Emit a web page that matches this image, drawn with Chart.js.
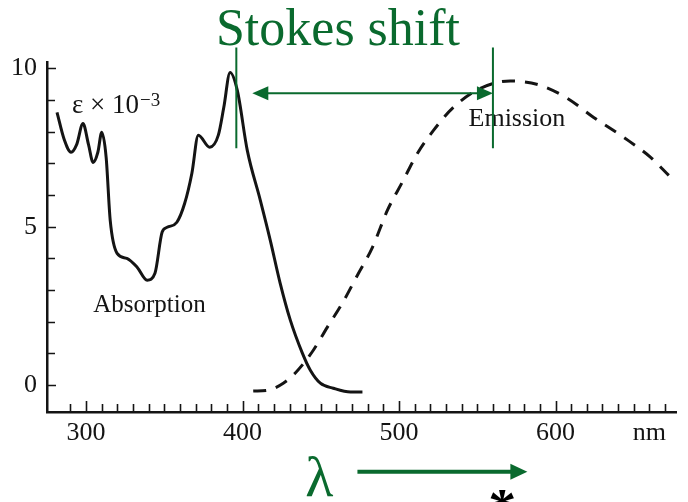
<!DOCTYPE html>
<html>
<head>
<meta charset="utf-8">
<title>Stokes shift</title>
<script src="https://cdn.jsdelivr.net/npm/chart.js@4.4.1/dist/chart.umd.min.js"></script>
<style>
  html, body { margin: 0; padding: 0; background: #fff; }
  canvas { display: block; }
</style>
</head>
<body>
<canvas id="chart" width="688" height="502"></canvas>
<script>
/* Absorption / emission spectra with the Stokes shift marked. */
(function () {
  "use strict";

  // wavelength (nm) and epsilon x 10^-3
  var absorptionNm = [281.4, 286, 290.4, 294, 298, 301.5, 304.5, 307.5, 310, 312.8, 315.4, 319.8,
    326, 332.6, 339, 344, 348.6, 351.8, 358, 363, 367.6, 371.7, 379, 384.5, 388, 392, 396.6,
    403, 411.3, 417.7, 424, 430.5, 438.2, 443.3, 449.7, 458, 469, 476.6];
  var absorptionEps = [8.61, 7.75, 7.35, 7.6, 8.26, 7.6, 7.03, 7.35, 7.98, 7.19, 5.2, 4.16,
    4.0, 3.72, 3.31, 3.53, 4.83, 4.98, 5.14, 5.74, 6.69, 7.89, 7.51, 7.89, 8.77, 9.87, 9.31,
    7.41, 5.84, 4.57, 3.22, 2.05, 1.01, 0.47, 0.06, -0.1, -0.22, -0.22];

  var emissionNm = [406.8, 416.4, 426, 433.7, 445.2, 454.2, 463.8, 473.4, 483, 492.6, 502,
    511.8, 522, 534.8, 552, 571, 590.5, 607.7, 624.4, 643.6, 660.8, 672.4];
  var emissionEps = [-0.19, -0.16, 0.06, 0.38, 1.1, 1.83, 2.59, 3.47, 4.35, 5.52, 6.4,
    7.32, 8.04, 8.77, 9.37, 9.6, 9.46, 9.05, 8.45, 7.82, 7.19, 6.62];

  var xTickValues = [290, 300, 310, 320, 330, 340, 350, 360, 370, 380, 390, 400, 410, 420,
    430, 440, 450, 460, 470, 480, 490, 500, 510, 520, 530, 540, 550, 560, 570, 580, 590,
    600, 610, 620, 630, 640, 650, 660, 670];
  var xTickLabels = { 300: "300", 400: "400", 500: "500", 600: "600", 660: "nm" };
  var yTickValues = [0, 1, 2, 3, 4, 5, 6, 7, 8, 9, 10];
  var yTickLabels = { 0: "0", 5: "5", 10: "10" };

  var INK = "#141414";
  var GREEN = "#0a6a2e";
  var SERIF = "'Liberation Serif', 'DejaVu Serif', serif";

  function points(xs, ys) {
    return xs.map(function (x, i) { return { x: x, y: ys[i] }; });
  }

  function arrowHead(ctx, tipX, tipY, dir, len, half) {
    ctx.beginPath();
    ctx.moveTo(tipX, tipY);
    ctx.lineTo(tipX - dir * len, tipY - half);
    ctx.lineTo(tipX - dir * len, tipY + half);
    ctx.closePath();
    ctx.fill();
  }

  // inward tick marks, like the printed figure
  var inwardTicks = {
    id: "inwardTicks",
    beforeDatasetsDraw: function (chart) {
      var ctx = chart.ctx, xs = chart.scales.x, ys = chart.scales.y, area = chart.chartArea;
      ctx.save();
      ctx.strokeStyle = INK;
      ctx.lineWidth = 1.6;
      ctx.beginPath();
      xTickValues.forEach(function (v) {
        var px = Math.round(xs.getPixelForValue(v)) + 0.5;
        var len = v % 100 === 0 ? 11 : 8;
        ctx.moveTo(px, area.bottom);
        ctx.lineTo(px, area.bottom - len);
      });
      yTickValues.forEach(function (v) {
        var py = Math.round(ys.getPixelForValue(v)) + 0.5;
        var len = v % 5 === 0 ? 9 : 8;
        ctx.moveTo(area.left, py);
        ctx.lineTo(area.left + len, py);
      });
      ctx.stroke();
      ctx.restore();
    }
  };

  var notes = {
    id: "notes",
    afterDatasetsDraw: function (chart) {
      var ctx = chart.ctx, xs = chart.scales.x, ys = chart.scales.y;
      function X(v) { return xs.getPixelForValue(v); }
      function Y(v) { return ys.getPixelForValue(v); }

      ctx.save();
      ctx.fillStyle = INK;
      ctx.textAlign = "left";
      ctx.textBaseline = "alphabetic";

      ctx.font = "27px " + SERIF;
      var base = "\u03b5 \u00d7 10";
      ctx.fillText(base, X(291), Y(8.58));
      var w = ctx.measureText(base).width;
      ctx.font = "19px " + SERIF;
      ctx.fillText("\u22123", X(291) + w + 1, Y(8.58) - 7);

      ctx.font = "25px " + SERIF;
      ctx.fillText("Absorption", X(304.5), Y(2.3));
      ctx.font = "26px " + SERIF;
      ctx.fillText("Emission", X(544.4), Y(8.17));

      // Stokes shift markers
      ctx.strokeStyle = GREEN;
      ctx.fillStyle = GREEN;
      ctx.lineWidth = 2;
      ctx.beginPath();
      [396, 560].forEach(function (nm) {
        ctx.moveTo(X(nm), Y(10.66));
        ctx.lineTo(X(nm), Y(7.48));
      });
      ctx.moveTo(X(406.2) + 14, Y(9.21));
      ctx.lineTo(X(560) - 14, Y(9.21));
      ctx.stroke();
      arrowHead(ctx, X(406.2), Y(9.21), -1, 16, 7);
      arrowHead(ctx, X(560), Y(9.21), 1, 16, 7);

      // wavelength arrow
      ctx.font = "58px " + SERIF;
      ctx.textAlign = "center";
      ctx.fillText("\u03bb", X(449), Y(-3.5));
      ctx.lineWidth = 4;
      ctx.beginPath();
      ctx.moveTo(X(473.4), Y(-2.74));
      ctx.lineTo(X(582) - 15, Y(-2.74));
      ctx.stroke();
      arrowHead(ctx, X(582), Y(-2.74), 1, 17, 8);

      ctx.fillStyle = "#000";
      ctx.font = "bold 56px " + SERIF;
      ctx.fillText("*", X(566), Y(-4.51));
      ctx.restore();
    }
  };

  new Chart(document.getElementById("chart"), {
    type: "line",
    data: {
      datasets: [{
        label: "Absorption",
        data: points(absorptionNm, absorptionEps),
        borderColor: INK,
        borderWidth: 3,
        pointRadius: 0,
        cubicInterpolationMode: "monotone",
        fill: false
      }, {
        label: "Emission",
        data: points(emissionNm, emissionEps),
        borderColor: INK,
        borderWidth: 3,
        borderDash: [13, 10],
        pointRadius: 0,
        cubicInterpolationMode: "monotone",
        fill: false
      }]
    },
    options: {
      responsive: false,
      animation: false,
      devicePixelRatio: 1,
      layout: { padding: { left: 0, right: 12, top: 0, bottom: 0 } },
      plugins: {
        legend: { display: false },
        tooltip: { enabled: false },
        title: {
          display: true,
          text: "Stokes shift",
          color: GREEN,
          font: { family: SERIF, size: 52, weight: "normal", lineHeight: 1 },
          padding: { top: 5, bottom: 5 }
        }
      },
      scales: {
        x: {
          type: "linear",
          min: 275,
          max: 677,
          grid: { display: false, drawTicks: false },
          border: { display: true, color: INK, width: 2.5 },
          ticks: {
            autoSkip: false,
            maxRotation: 0,
            minRotation: 0,
            padding: 6,
            color: INK,
            font: { family: SERIF, size: 26 },
            callback: function (value) { return xTickLabels[value] || ""; }
          },
          afterBuildTicks: function (scale) {
            scale.ticks = xTickValues.map(function (v) { return { value: v }; });
          },
          afterFit: function (scale) {
            scale.height = 90;
            scale.paddingLeft = 0;
            scale.paddingRight = 0;
          }
        },
        y: {
          min: -0.85,
          max: 10.2,
          grid: { display: false, drawTicks: false },
          border: { display: true, color: INK, width: 2.5 },
          ticks: {
            autoSkip: false,
            padding: 10,
            color: INK,
            font: { family: SERIF, size: 26 },
            callback: function (value) {
              return yTickLabels[value] !== undefined ? yTickLabels[value] : "";
            }
          },
          afterBuildTicks: function (scale) {
            scale.ticks = yTickValues.map(function (v) { return { value: v }; });
          },
          afterFit: function (scale) {
            scale.width = 47;
            scale.paddingTop = 0;
            scale.paddingBottom = 0;
          }
        }
      }
    },
    plugins: [inwardTicks, notes]
  });
})();
</script>
</body>
</html>
